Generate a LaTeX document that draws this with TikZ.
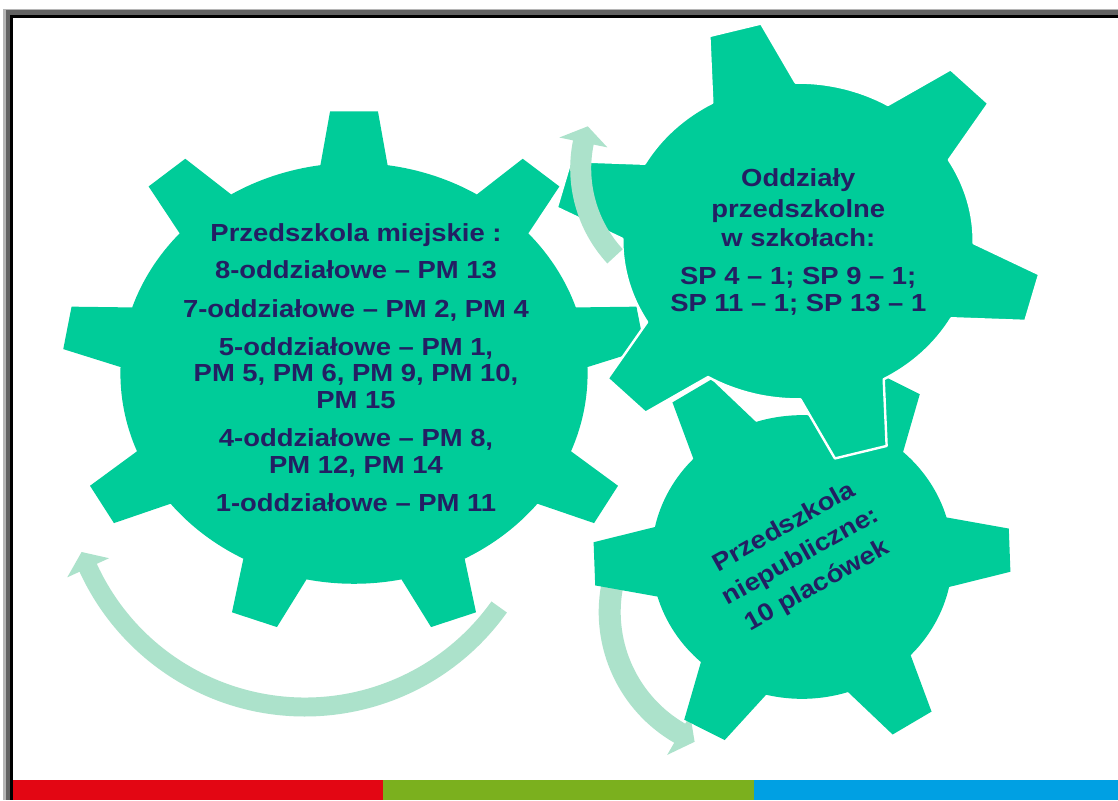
\documentclass[tikz,border=0pt]{standalone}
\usepackage{fontspec}
\setmainfont{Liberation Sans}
\newfontfamily\gearfont{Liberation Sans}[FakeStretch=1.11]
\definecolor{gearc}{HTML}{00CC99}
\definecolor{arrowc}{HTML}{ACE2CB}
\definecolor{navy}{RGB}{35,31,99}
\definecolor{stripered}{HTML}{E30613}
\definecolor{stripegreen}{HTML}{7BB01E}
\definecolor{stripeblue}{HTML}{00A0E3}
\definecolor{framedark}{HTML}{626262}
\definecolor{framelight}{HTML}{B5B5B5}
\tikzset{
  gearbody/.style={fill=gearc},
  topgear/.style={fill=gearc, draw=white, line width=2.4pt, line join=round},
  cyclearrow/.style={fill=arrowc},
  geartext/.style={text=navy, inner sep=0pt,
    font=\gearfont\bfseries\fontsize{24.7}{26.3}\selectfont},
}
\begin{document}
\begin{tikzpicture}[x=1pt, y=1pt]
\useasboundingbox (0,0) rectangle (1118,800);
% frame
\fill[framelight] (3.4,0) rectangle (1118,791);
\fill[framedark] (5.7,0) rectangle (1118,790);
\fill[black] (10,0) rectangle (1118,784.7);
\fill[white] (13.3,0) rectangle (1118,782.3);
% stripes
\fill[stripered] (13.3,0) rectangle (383,20);
\fill[stripegreen] (383,0) rectangle (754,20);
\fill[stripeblue] (754,0) rectangle (1118,20);
% arrows under the gears
\fill[cyclearrow, shift={(305,331.5)}]
  (-35.5:248) arc[start angle=-35.5, end angle=-155.4, radius=248]
  -- (-155.4:261.5) -- (-159.5:238.5) -- (-155.4:215.5)
  -- (-155.4:229) arc[start angle=-155.4, end angle=-35.5, radius=229] -- cycle;
\fill[cyclearrow, shift={(749.7,188)}]
  (170.1:151) arc[start angle=170.1, end angle=240, radius=151]
  -- (240:165) -- (247:141) -- (240:119)
  -- (240:129) arc[start angle=240, end angle=170.1, radius=129] -- cycle;
% big gear (9 teeth)
\fill[gearbody, shift={(354,426.6)}, xscale=292, yscale=263]
  ({90-8.27}:0.8)
  \foreach \k in {0,...,8}{
    -- ({90+40*\k-4.7}:1) -- ({90+40*\k+4.7}:1) -- ({90+40*\k+8.27}:0.8)
    arc[start angle={90+40*\k+8.27}, end angle={130+40*\k-8.27}, radius=0.8]
  } -- cycle;
% bottom right gear (6 teeth)
\fill[gearbody, shift={(802,243)}, xscale=209, yscale=197]
  ({2-14.2}:0.72)
  \foreach \k in {0,...,5}{
    -- ({2+60*\k-6.3}:1) -- ({2+60*\k+6.3}:1) -- ({2+60*\k+14.2}:0.72)
    arc[start angle={2+60*\k+14.2}, end angle={62+60*\k-14.2}, radius=0.72]
  } -- cycle;
% top right gear (6 teeth)
\filldraw[topgear, shift={(798,559)}, xscale=244, yscale=220]
  ({105-14.2}:0.72)
  \foreach \k in {0,...,5}{
    -- ({105+60*\k-6.3}:1) -- ({105+60*\k+6.3}:1) -- ({105+60*\k+14.2}:0.72)
    arc[start angle={105+60*\k+14.2}, end angle={165+60*\k-14.2}, radius=0.72]
  } -- cycle;
% arrow over the top gear
\fill[cyclearrow, shift={(710.2,631.5)}]
  (222.7:140) arc[start angle=222.7, end angle=168.4, radius=140]
  -- (168.4:154) -- (161:129.5) -- (168.4:105)
  -- (168.4:119) arc[start angle=168.4, end angle=222.7, radius=119] -- cycle;
% texts of the big gear
\node[geartext, anchor=base] (m1) at (356,558) {Przedszkola miejskie :};
\node[geartext, anchor=base] (m2) at (356,521.7) {8-oddziałowe – PM 13};
\node[geartext, anchor=base] (m3) at (356,482.7) {7-oddziałowe – PM 2, PM 4};
\node[geartext, anchor=base] (m4) at (356,444.3) {5-oddziałowe – PM 1,};
\node[geartext, anchor=base] (m5) at (356,418.3) {PM 5, PM 6, PM 9, PM 10,};
\node[geartext, anchor=base] (m6) at (356,391.7) {PM 15};
\node[geartext, anchor=base] (m7) at (356,353.3) {4-oddziałowe – PM 8,};
\node[geartext, anchor=base] (m8) at (356,326.7) {PM 12, PM 14};
\node[geartext, anchor=base] (m9) at (356,288.3) {1-oddziałowe – PM 11};
% texts of the top gear
\node[geartext, anchor=base] (s1) at (798.3,613) {Oddziały};
\node[geartext, anchor=base] (s2) at (798.3,582.5) {przedszkolne};
\node[geartext, anchor=base] (s3) at (798.3,553.5) {w szkołach:};
\node[geartext, anchor=base] (s4) at (798.3,515) {SP 4 – 1; SP 9 – 1;};
\node[geartext, anchor=base] (s5) at (798.3,488.3) {SP 11 – 1; SP 13 – 1};
% text of the bottom gear
\node[geartext, align=center, rotate=29.3,
  font=\gearfont\bfseries\fontsize{24.7}{33.5}\selectfont] (n1) at (801,243)
  {Przedszkola\\niepubliczne:\\10 placówek};
\end{tikzpicture}
\end{document}
